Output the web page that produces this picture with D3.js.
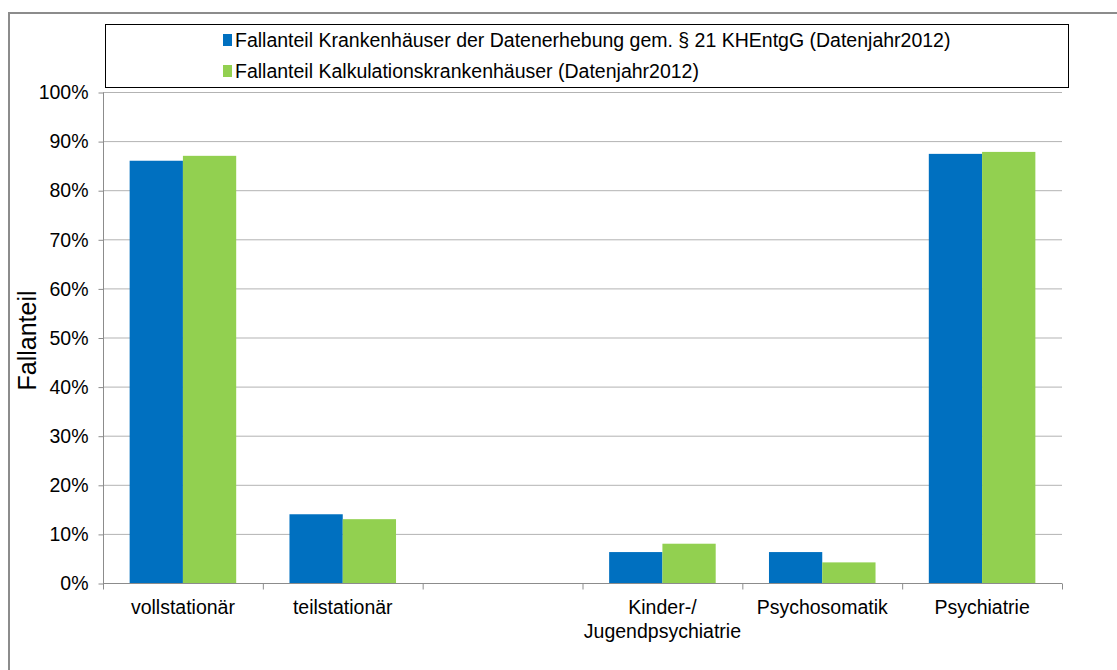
<!DOCTYPE html>
<html><head><meta charset="utf-8">
<script src="https://cdn.jsdelivr.net/npm/d3@7"></script>
<style>body{margin:0;background:#fff}svg{display:block}</style>
</head><body>
<script>
const categories = ["vollstationär", "teilstationär", "", "Kinder-/\nJugendpsychiatrie", "Psychosomatik", "Psychiatrie"];
const seriesNames = ["Fallanteil Krankenhäuser der Datenerhebung gem. § 21 KHEntgG (Datenjahr2012)", "Fallanteil Kalkulationskrankenhäuser (Datenjahr2012)"];
const seriesA = [86, 14, null, 6.3, 6.3, 87.4];
const seriesB = [87, 13, null, 8, 4.2, 87.8];
const yTicks = [0,10,20,30,40,50,60,70,80,90,100];
const colors = ["#0070C0", "#92D050"];

const W = 1117, H = 670;
const svg = d3.select("body").append("svg").attr("width", W).attr("height", H);
const font = "'Liberation Sans', Arial, sans-serif";
const fs = 19.5;

// outer border
svg.append("path").attr("d", `M9,${H+2} V13 H${W+2}`).attr("fill","none").attr("stroke","#8c8c8c").attr("stroke-width",2);

const x0 = 103, x1 = 1062, yTop = 92, yBot = 583;
const x = d3.scaleBand().domain(d3.range(categories.length)).range([x0, x1]).paddingInner(0).paddingOuter(0);
const xs = d3.scaleBand().domain([0,1]).range([0, x.bandwidth()]).paddingInner(0).paddingOuter(0.5);
const y = d3.scaleLinear().domain([0,100]).range([yBot, yTop]);

// gridlines
svg.append("g").selectAll("line").data(yTicks.filter(d=>d>0)).join("line")
  .attr("x1", x0).attr("x2", x1).attr("y1", d=>y(d)+0.5).attr("y2", d=>y(d)+0.5)
  .attr("stroke","#b3b3b3").attr("stroke-width",1);

// bars
const data = [seriesA, seriesB];
data.forEach((s, si) => {
  svg.append("g").selectAll("rect").data(s.map((v,i)=>({v,i})).filter(d=>d.v!=null)).join("rect")
    .attr("x", d => x(d.i) + xs(si)).attr("width", xs.bandwidth())
    .attr("y", d => y(d.v)).attr("height", d => y(0) - y(d.v))
    .attr("fill", colors[si]);
});

// y axis
const yAxis = d3.axisLeft(y).tickValues(yTicks).tickFormat(d=>d+"%").tickSize(5).tickPadding(10);
const gy = svg.append("g").attr("transform",`translate(${x0+0.5},0.5)`).call(yAxis);
gy.select(".domain").attr("stroke","#8c8c8c").attr("d", `M-0,${yTop}V${yBot}`);
gy.selectAll(".tick line").attr("stroke","#8c8c8c");
gy.selectAll("text").attr("font-family",font).attr("font-size",fs).attr("fill","#000");

// x axis
const gx = svg.append("g").attr("transform",`translate(0,${yBot+0.5})`);
gx.append("line").attr("x1",x0).attr("x2",x1).attr("stroke","#8c8c8c");
gx.selectAll("line.t").data(d3.range(categories.length+1)).join("line").attr("class","t")
  .attr("x1", i => (i<categories.length? x(i): x1)+0.5).attr("x2", i => (i<categories.length? x(i): x1)+0.5)
  .attr("y1",0).attr("y2",6).attr("stroke","#8c8c8c");
categories.forEach((c,i) => {
  const t = gx.append("text").attr("text-anchor","middle").attr("font-family",font).attr("font-size",fs).attr("fill","#000");
  c.split("\n").forEach((ln,j) => {
    t.append("tspan").attr("x", x(i)+x.bandwidth()/2).attr("y", 30 + j*24).text(ln);
  });
});

// y title
svg.append("text").attr("transform",`translate(36,${(yTop+yBot)/2 + 3}) rotate(-90)`)
  .attr("text-anchor","middle").attr("font-family",font).attr("font-size",25).text("Fallanteil");

// legend
svg.append("rect").attr("x",105.5).attr("y",24.5).attr("width",963).attr("height",63)
  .attr("fill","#fff").attr("stroke","#000").attr("stroke-width",1);
seriesNames.forEach((n,i) => {
  const yy = 40 + i*31;
  svg.append("rect").attr("x",223).attr("y",yy-6).attr("width",9).attr("height",12).attr("fill",colors[i]);
  svg.append("text").attr("x",235).attr("y",yy+7).attr("font-family",font).attr("font-size",fs).attr("fill","#000").text(n);
});
</script>
</body></html>
